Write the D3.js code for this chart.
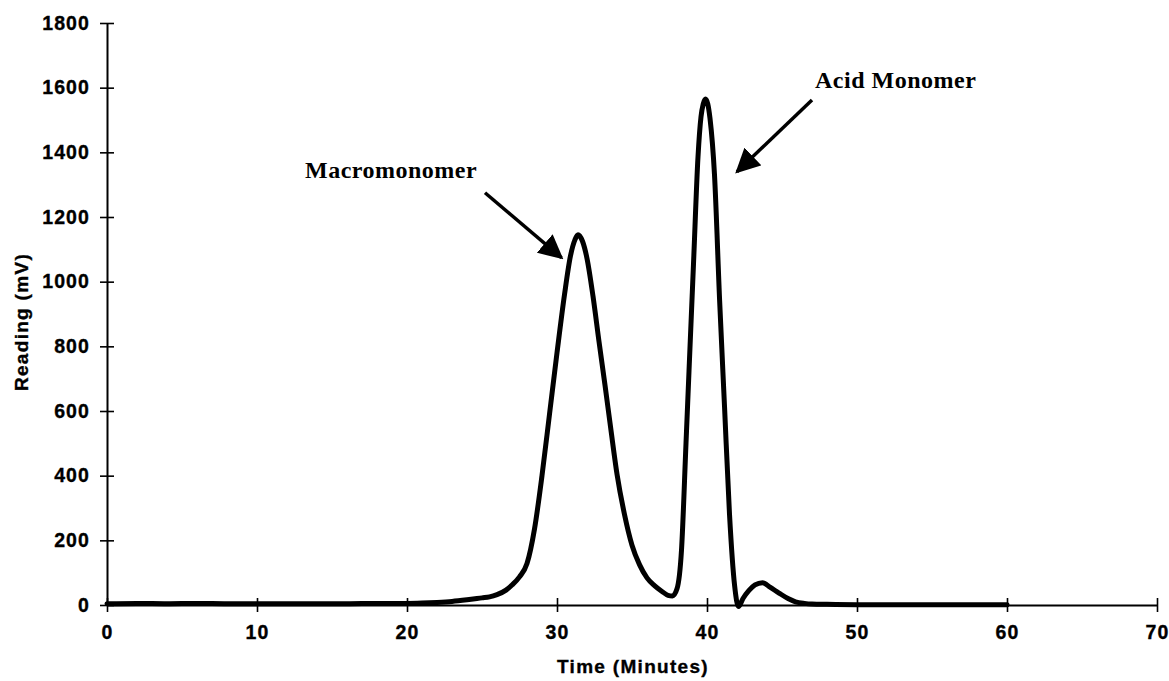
<!DOCTYPE html>
<html>
<head>
<meta charset="utf-8">
<script src="https://cdn.jsdelivr.net/npm/d3@7"></script>
<style>
  html, body { margin: 0; padding: 0; background: #fff; }
  svg { display: block; }
  .tick text { font-family: "Liberation Sans", Arial, sans-serif; font-weight: bold; font-size: 19.5px; letter-spacing: 1.1px; fill: #000; stroke: #000; stroke-width: 0.35px; }
  .axis-title { font-family: "Liberation Sans", Arial, sans-serif; font-weight: bold; font-size: 19px; letter-spacing: 1.3px; fill: #000; stroke: #000; stroke-width: 0.35px; }
  .note { font-family: "Liberation Serif", "Times New Roman", serif; font-weight: bold; font-size: 24px; letter-spacing: 0.5px; fill: #000; }
</style>
</head>
<body>
<svg id="chart" width="1169" height="681"></svg>
<script>
// Chromatogram: detector reading (mV) against elution time (minutes)
const time = [0, 2, 4, 6, 8, 10, 12, 14, 16, 18, 20, 21, 22, 23, 24, 25, 25.5, 26, 26.6, 27, 27.5, 28, 28.5, 29, 29.5, 30, 30.5, 30.9, 31.2, 31.4, 31.7, 32, 32.4, 32.8, 33.2, 33.6, 34, 34.5, 35, 35.5, 36, 36.5, 37, 37.4, 37.7, 38.0, 38.3, 38.6, 38.8, 39.1, 39.4, 39.6, 39.75, 39.9, 40.05, 40.2, 40.5, 40.84, 41.17, 41.5, 41.84, 42.1, 42.4, 42.8, 43.2, 43.7, 44.2, 44.8, 45.4, 45.9, 46.5, 47, 48, 50, 52, 54, 56, 58, 60];
const reading = [4, 5, 4, 5, 4, 4, 4, 4, 4, 5, 5, 6, 8, 11, 16, 22, 25, 32, 46, 62, 87, 128, 235, 400, 590, 780, 960, 1080, 1130, 1145, 1125, 1072, 955, 815, 680, 540, 405, 280, 185, 125, 84, 60, 42, 30, 28, 50, 170, 500, 723, 1055, 1386, 1510, 1550, 1565, 1550, 1505, 1330, 943, 612, 281, 60, -5, 20, 45, 62, 69, 55, 37, 20, 10, 5, 3, 2, 1, 1, 1, 1, 1, 1];

const xTicks = [0, 10, 20, 30, 40, 50, 60, 70];
const yTicks = [0, 200, 400, 600, 800, 1000, 1200, 1400, 1600, 1800];

const xTitle = "Time (Minutes)";
const yTitle = "Reading (mV)";

// Peak labels: text position and arrow tail/tip, all in data units (minutes, mV)
const noteText = ["Macromonomer", "Acid Monomer"];
const noteAt = [[13.2, 1320], [47.2, 1600]];
const arrowFrom = [[25.2, 1275], [47.0, 1562]];
const arrowTo = [[30.3, 1074], [42.0, 1340]];

const svg = d3.select("#chart");
const x = d3.scaleLinear().domain([0, 70]).range([107, 1157]);
const y = d3.scaleLinear().domain([0, 1800]).range([605, 23]);

// arrowhead marker
svg.append("defs").append("marker")
  .attr("id", "head")
  .attr("viewBox", "0 0 10 10")
  .attr("refX", 9).attr("refY", 5)
  .attr("markerWidth", 7).attr("markerHeight", 7)
  .attr("markerUnits", "strokeWidth")
  .attr("orient", "auto")
  .append("path").attr("d", "M0,0 L10,5 L0,10 Z").attr("fill", "#000");

// axes with ticks crossing the axis line
const gx = svg.append("g")
  .attr("transform", `translate(0,${y(0)})`)
  .call(d3.axisBottom(x).tickValues(xTicks).tickSizeInner(7).tickSizeOuter(0).tickPadding(13).tickFormat(d3.format("d")));
gx.selectAll(".tick line").attr("y1", -7).attr("stroke-width", 1.6);
gx.select(".domain").attr("stroke-width", 2);

const gy = svg.append("g")
  .attr("transform", `translate(${x(0)},0)`)
  .call(d3.axisLeft(y).tickValues(yTicks).tickSizeInner(7).tickSizeOuter(0).tickPadding(10).tickFormat(d3.format("d")));
gy.selectAll(".tick line").attr("x1", 7).attr("stroke-width", 1.6);
gy.select(".domain").attr("stroke-width", 2);

// trace
const pts = time.map((t, i) => [t, reading[i]]);
svg.append("path")
  .datum(pts)
  .attr("fill", "none")
  .attr("stroke", "#000")
  .attr("stroke-width", 5)
  .attr("stroke-linejoin", "round")
  .attr("stroke-linecap", "round")
  .attr("d", d3.line().x(d => x(d[0])).y(d => y(d[1])).curve(d3.curveMonotoneX));

// axis titles
svg.append("text").attr("class", "axis-title")
  .attr("x", 633).attr("y", 673).attr("text-anchor", "middle").text(xTitle);
svg.append("text").attr("class", "axis-title")
  .attr("transform", `translate(28,${322}) rotate(-90)`)
  .attr("text-anchor", "middle").text(yTitle);

// peak annotations
noteText.forEach((txt, i) => {
  svg.append("text").attr("class", "note")
    .attr("x", x(noteAt[i][0])).attr("y", y(noteAt[i][1])).text(txt);
  svg.append("line")
    .attr("x1", x(arrowFrom[i][0])).attr("y1", y(arrowFrom[i][1]))
    .attr("x2", x(arrowTo[i][0])).attr("y2", y(arrowTo[i][1]))
    .attr("stroke", "#000").attr("stroke-width", 3.5)
    .attr("marker-end", "url(#head)");
});
</script>
</body>
</html>
